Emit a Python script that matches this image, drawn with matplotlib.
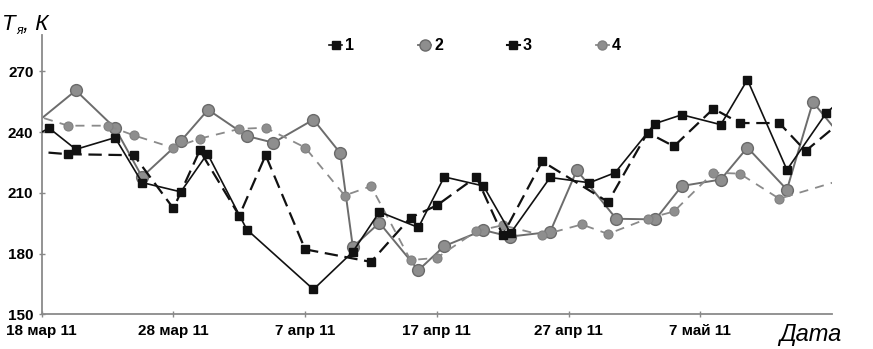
import matplotlib
matplotlib.use("Agg")
import matplotlib.pyplot as plt
from matplotlib.lines import Line2D

# ---- data (x = days since 18 Mar 2011) ----
days_1 = [-0.44, 0.56, 2.59, 5.57, 7.62, 10.56, 12.58, 15.57, 20.63, 23.62, 25.64, 28.6,
          30.56, 33.54, 35.6, 38.6, 41.59, 43.54, 46.55, 48.6, 51.56, 53.58, 56.58, 59.56, 61.56]
temp_1 = [238.5, 242.0, 231.5, 237.3, 215.1, 210.5, 229.4, 191.9, 162.3, 180.9, 200.6, 192.9,
          217.9, 213.4, 190.1, 217.6, 215.0, 220.0, 244.2, 248.6, 243.7, 265.9, 221.4, 249.4, 261.0]

days_2 = [-0.44, 2.59, 5.57, 7.62, 10.56, 12.63, 15.57, 17.59, 20.63, 22.66, 23.62, 25.64, 28.6,
          30.56, 33.54, 35.55, 38.6, 40.63, 43.62, 46.6, 48.6, 51.56, 53.58, 56.58, 58.55, 61.56]
temp_2 = [244.5, 260.6, 242.0, 217.9, 235.6, 251.1, 238.1, 234.8, 246.2, 229.7, 183.3, 195.2, 171.8,
          183.7, 191.6, 188.4, 190.7, 221.2, 197.2, 196.9, 213.4, 216.6, 232.4, 211.6, 254.9, 231.0]

days_3 = [-1, 2, 7, 10, 12, 15, 17, 20, 25, 28, 30, 33, 35, 38, 43, 46, 48, 51, 53, 56, 58, 61]
temp_3 = [230.7, 229.1, 228.6, 202.3, 231.0, 198.7, 228.6, 182.1, 175.9, 197.8, 203.8, 217.9,
          189.1, 225.6, 205.5, 239.8, 233.0, 251.6, 244.5, 244.5, 230.7, 246.9]

days_4 = [-1, 2, 5, 7, 10, 12, 15, 17, 20, 23, 25, 28, 30, 33, 35, 38, 41, 43, 46, 48, 51, 53, 56, 61]
temp_4 = [249.3, 243.2, 243.2, 238.4, 232.2, 236.8, 241.6, 242.2, 232.4, 208.7, 213.3, 176.8,
          177.9, 191.1, 194.0, 189.1, 194.4, 189.7, 197.3, 200.8, 220.0, 219.5, 207.1, 216.9]

tick_days = [0, 10, 20, 30, 40, 50]
tick_labels = ["18 мар 11", "28 мар 11", "7 апр 11", "17 апр 11", "27 апр 11", "7 май 11"]
y_ticks = [150, 180, 210, 240, 270]
series_names = ["1", "2", "3", "4"]

plt.rcParams['font.family'] = ['Liberation Sans', 'DejaVu Sans']

fig = plt.figure(figsize=(8.73, 3.49), dpi=100)
ax = fig.add_axes([0.0478, 0.0994, 0.9052, 0.8003])

black = "#111111"
gray_fill = "#8e8e8e"
gray_edge = "#6a6a6a"

l2, = ax.plot(days_2, temp_2, color="#6c6c6c", lw=1.4, marker="o", ms=8.5,
              mfc=gray_fill, mec=gray_edge, mew=1.0, zorder=2)
l4, = ax.plot(days_4, temp_4, color="#8a8a8a", lw=1.3, ls=(0, (5, 4)), marker="o", ms=6.5,
              mfc=gray_fill, mec="#808080", mew=0.8, zorder=2)
l3, = ax.plot(days_3, temp_3, color=black, lw=1.6, ls=(0, (6, 3)), marker="s", ms=6,
              mfc=black, mec=black, zorder=3)
l1, = ax.plot(days_1, temp_1, color=black, lw=1.2, marker="s", ms=6,
              mfc=black, mec=black, zorder=3)

ax.set_xlim(0, 60)
ax.set_ylim(150, 288)
ax.set_xticks(tick_days)
ax.set_xticklabels(tick_labels)
ax.set_yticks(y_ticks)
ax.set_yticklabels([str(v) for v in y_ticks])
for lab in ax.get_xticklabels() + ax.get_yticklabels():
    lab.set_fontweight("bold")
    lab.set_fontsize(11)
ax.tick_params(axis="both", direction="inout", length=4, width=1, color="#888888")
ax.tick_params(axis="x", pad=5)
ax.tick_params(axis="y", pad=4)

for s in ["top", "right"]:
    ax.spines[s].set_visible(False)
for s in ["left", "bottom"]:
    ax.spines[s].set_color("#8a8a8a")
    ax.spines[s].set_linewidth(1.3)

# legend
handles = [Line2D([], [], color=black, lw=1.2, marker="s", ms=6, mfc=black, mec=black),
           Line2D([], [], color="#6c6c6c", lw=1.3, marker="o", ms=8, mfc=gray_fill, mec=gray_edge),
           Line2D([], [], color=black, lw=1.5, marker="s", ms=6, mfc=black, mec=black),
           Line2D([], [], color="#8a8a8a", lw=1.3, marker="o", ms=6.5, mfc=gray_fill, mec="#808080")]
fig.legend(handles, series_names, loc="center", bbox_to_anchor=(475 / 873, 1 - 46 / 349),
           ncol=4, frameon=False, handlelength=0.8, handletextpad=0.2, columnspacing=4.0,
           prop={"weight": "bold", "size": 11.5})

# axis titles
fig.text(2 / 873, 1 - 30 / 349, "Т", fontsize=16, style="italic", va="baseline", ha="left")
fig.text(16 / 873, 1 - 34 / 349, "я", fontsize=9, style="italic", va="baseline", ha="left")
fig.text(23 / 873, 1 - 30 / 349, ", К", fontsize=16, style="italic", va="baseline", ha="left")
fig.text(841 / 873, 1 - 341 / 349, "Дата", fontsize=17, style="italic", va="baseline", ha="right")

fig.savefig("out.png", dpi=100)
